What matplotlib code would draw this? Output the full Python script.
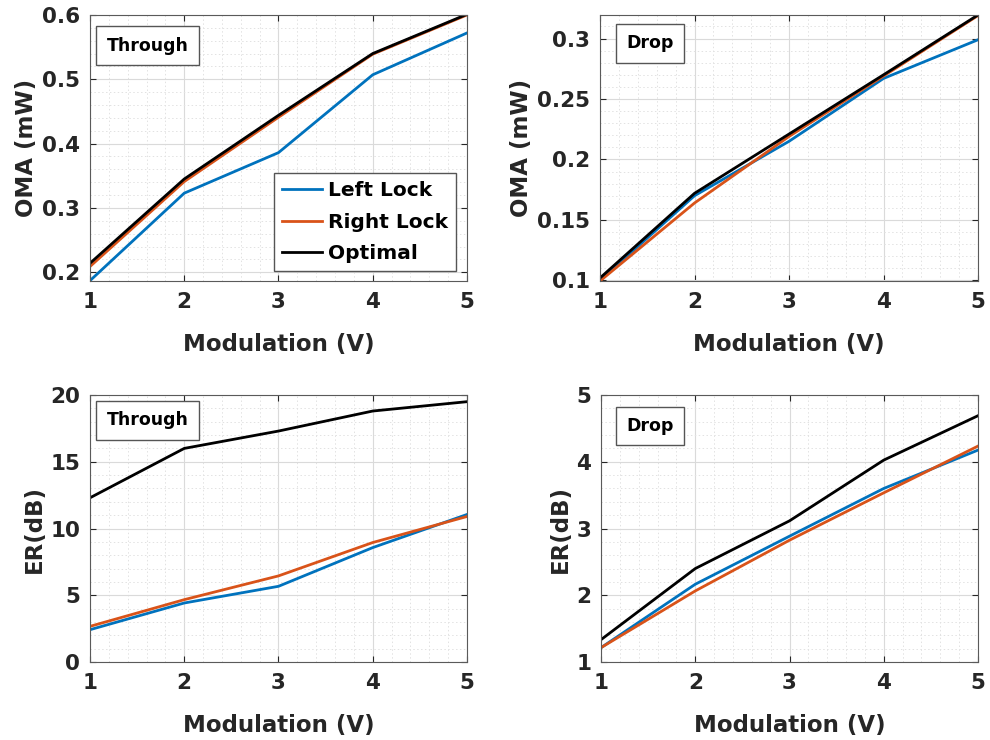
import numpy as np
import matplotlib.pyplot as plt
from matplotlib.ticker import MultipleLocator, FormatStrFormatter

# modulation voltages
volts = [1, 2, 3, 4, 5]

# optical modulation amplitude (mW)
oma_through_left = [0.187, 0.323, 0.386, 0.507, 0.572]
oma_through_right = [0.209, 0.341, 0.441, 0.539, 0.600]
oma_through_opt = [0.214, 0.345, 0.444, 0.540, 0.601]

oma_drop_left = [0.100, 0.170, 0.215, 0.267, 0.299]
oma_drop_right = [0.0995, 0.164, 0.219, 0.269, 0.319]
oma_drop_opt = [0.102, 0.172, 0.221, 0.270, 0.3195]

# extinction ratio (dB)
er_through_left = [2.42, 4.42, 5.67, 8.57, 11.05]
er_through_right = [2.67, 4.67, 6.45, 8.95, 10.9]
er_through_opt = [12.3, 16.0, 17.3, 18.8, 19.5]

er_drop_left = [1.215, 2.165, 2.885, 3.60, 4.175]
er_drop_right = [1.215, 2.065, 2.825, 3.535, 4.235]
er_drop_opt = [1.335, 2.40, 3.115, 4.025, 4.69]

series_names = ["Left Lock", "Right Lock", "Optimal"]
colors = ["#0072BD", "#D95319", "black"]

plt.rcParams["font.family"] = "DejaVu Sans"
plt.rcParams["font.weight"] = "bold"
tick_color = "#262626"

fig = plt.figure(figsize=(9.9, 7.4), dpi=100)
ax_tl = fig.add_axes([0.0909, 0.6203, 0.3808, 0.3595])
ax_tr = fig.add_axes([0.6061, 0.6203, 0.3818, 0.3595])
ax_bl = fig.add_axes([0.0909, 0.1054, 0.3808, 0.3608])
ax_br = fig.add_axes([0.6071, 0.1054, 0.3808, 0.3608])

panels = [
    (ax_tl, [oma_through_left, oma_through_right, oma_through_opt], "OMA (mW)", "Through",
     (0.1865, 0.6), 0.1, 0.02, (0.1525, 0.884)),
    (ax_tr, [oma_drop_left, oma_drop_right, oma_drop_opt], "OMA (mW)", "Drop",
     (0.0995, 0.3195), 0.05, 0.01, (0.132, 0.893)),
    (ax_bl, [er_through_left, er_through_right, er_through_opt], "ER(dB)", "Through",
     (0, 20), 5, 1, (0.1525, 0.906)),
    (ax_br, [er_drop_left, er_drop_right, er_drop_opt], "ER(dB)", "Drop",
     (1, 5), 1, 0.2, (0.13, 0.884)),
]

for ax, ys, ylabel, tag, ylim, major, minor, tagpos in panels:
    for y, c, name in zip(ys, colors, series_names):
        ax.plot(volts, y, color=c, lw=2, label=name)
    ax.set_xlim(1, 5)
    ax.set_ylim(*ylim)
    ax.xaxis.set_major_locator(MultipleLocator(1))
    ax.xaxis.set_minor_locator(MultipleLocator(0.2))
    ax.yaxis.set_major_locator(MultipleLocator(major))
    ax.yaxis.set_minor_locator(MultipleLocator(minor))
    ax.yaxis.set_major_formatter(FormatStrFormatter("%g"))
    ax.grid(which="major", color="#dadada", lw=0.8)
    ax.grid(which="minor", color="#e2e2e2", lw=0.7, ls=(0, (1.5, 2.5)))
    ax.set_axisbelow(True)
    ax.tick_params(which="both", direction="in", top=True, right=True,
                   colors=tick_color, labelsize=15.5)
    ax.tick_params(which="major", length=4)
    ax.tick_params(which="minor", length=0)
    ax.tick_params(axis="x", pad=8)
    ax.tick_params(axis="y", pad=7)
    for s in ax.spines.values():
        s.set_color("#5a5a5a")
        s.set_linewidth(0.8)
    ax.set_xlabel("Modulation (V)", fontsize=16.5, fontweight="bold", color=tick_color, labelpad=15)
    ax.set_ylabel(ylabel, fontsize=16.5, fontweight="bold", color=tick_color, labelpad=3)
    ax.text(tagpos[0], tagpos[1], tag, transform=ax.transAxes, fontsize=12.5,
            fontweight="bold", ha="center", va="center",
            bbox=dict(boxstyle="square,pad=0.6", fc="white", ec="#555555", lw=1))

leg = ax_tl.legend(loc="lower right", bbox_to_anchor=(0.972, 0.036), borderaxespad=0,
                   fontsize=14.5, fancybox=False, framealpha=1, edgecolor="#555555",
                   handlelength=2.0, handletextpad=0.3, borderpad=0.4, labelspacing=0.62)
leg.get_frame().set_linewidth(1)

fig.savefig("out.png", dpi=100)
